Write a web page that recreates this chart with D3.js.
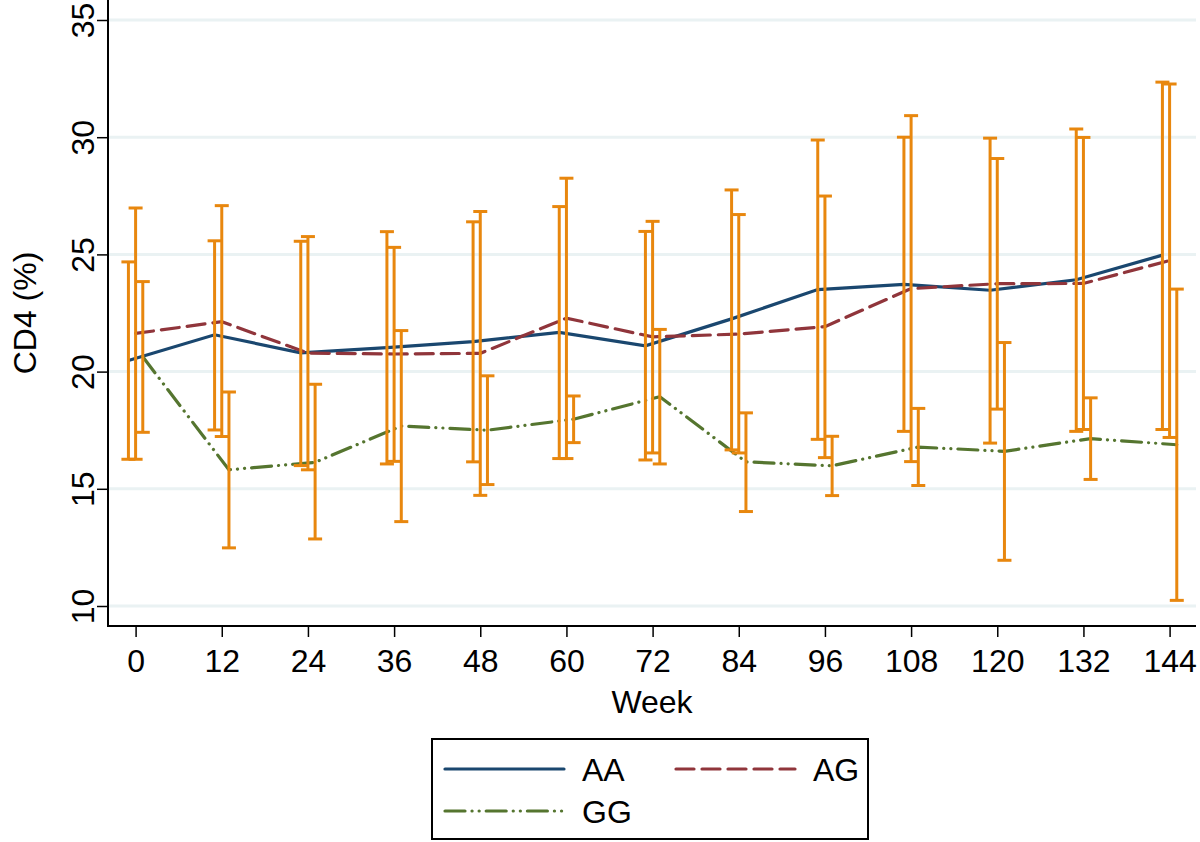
<!DOCTYPE html>
<html>
<head>
<meta charset="utf-8">
<script src="https://cdn.jsdelivr.net/npm/d3@7"></script>
<style>
    body { margin: 0; background: #fff; }
    svg { display: block; }
    text { font-family: "Liberation Sans", Arial, sans-serif; fill: #000; }
</style>
</head>
<body>
<svg width="1200" height="842"></svg>
<script>
"use strict"

const weeks = [0, 12, 24, 36, 48, 60, 72, 84, 96, 108, 120, 132, 144]
const yTicks = [10, 15, 20, 25, 30, 35]

const aaMean = [20.47, 21.57, 20.8, 21.02, 21.28, 21.67, 21.1, 22.25, 23.5, 23.72, 23.47, 23.92, 24.97]
const aaLo = [16.26, 17.51, 15.99, 16.06, 16.15, 16.29, 16.23, 16.66, 17.11, 17.45, 16.95, 17.45, 17.53]
const aaHi = [24.68, 25.58, 25.56, 25.97, 26.39, 27.04, 25.98, 27.75, 29.88, 30.0, 29.96, 30.35, 32.35]

const agMean = [21.63, 22.13, 20.79, 20.75, 20.78, 22.28, 21.48, 21.6, 21.92, 23.54, 23.75, 23.76, 24.74]
const agLo = [16.26, 17.23, 15.81, 16.17, 14.72, 16.29, 16.53, 16.53, 16.33, 16.16, 18.4, 17.53, 17.19]
const agHi = [26.98, 27.08, 25.76, 25.3, 26.83, 28.25, 26.41, 26.7, 27.49, 30.92, 29.09, 29.99, 32.27]

const ggMean = [20.63, 15.81, 16.13, 17.68, 17.5, 17.97, 18.93, 16.15, 15.98, 16.78, 16.6, 17.14, 16.88]
const ggLo = [17.41, 12.48, 12.86, 13.6, 15.18, 16.97, 16.06, 14.03, 14.71, 15.14, 11.95, 15.4, 10.24]
const ggHi = [23.84, 19.13, 19.46, 21.75, 19.82, 18.96, 21.8, 18.24, 17.24, 18.43, 21.24, 18.88, 23.52]

const groups = [
    { name: "AA", mean: aaMean, lo: aaLo, hi: aaHi, shift: -1, color: "#1a476f", dash: null },
    { name: "AG", mean: agMean, lo: agLo, hi: agHi, shift: 0, color: "#90353b", dash: "18,8" },
    { name: "GG", mean: ggMean, lo: ggLo, hi: ggHi, shift: 1, color: "#55752f", dash: "20,7,0.1,7,0.1,7" },
]

const BAR_COLOR = "#e8870e"
const FONT = 32
const left = 108, bottom = 626, right = 1196

const svg = d3.select("svg")
const x = d3.scaleLinear().domain([0, 144]).range([135.6, 1169.6])
const y = d3.scaleLinear().domain([10, 35]).range([606, 20])

// gridlines
svg.append("g")
    .selectAll("line")
    .data(yTicks)
    .join("line")
    .attr("x1", left)
    .attr("x2", right)
    .attr("y1", (d) => y(d))
    .attr("y2", (d) => y(d))
    .attr("stroke", "#eaf2f3")
    .attr("stroke-width", 3)

// y axis
const yAxis = svg.append("g")
    .attr("transform", `translate(${left},0)`)
    .call(d3.axisLeft(y).tickValues(yTicks).tickSize(11).tickPadding(0).tickFormat(d3.format("d")))
yAxis.select(".domain").remove()
yAxis.selectAll(".tick line").attr("stroke", "#000").attr("stroke-width", 1.5)
yAxis.selectAll(".tick text")
    .attr("font-size", FONT)
    .attr("text-anchor", "middle")
    .attr("x", 0)
    .attr("dy", 0)
    .attr("transform", "translate(-14,0) rotate(-90)")

svg.append("line")
    .attr("x1", left).attr("x2", left)
    .attr("y1", 0).attr("y2", bottom + 1)
    .attr("stroke", "#000").attr("stroke-width", 2)

// x axis
const xAxis = svg.append("g")
    .attr("transform", `translate(0,${bottom})`)
    .call(d3.axisBottom(x).tickValues(weeks).tickSize(11).tickPadding(12))
xAxis.select(".domain").remove()
xAxis.selectAll(".tick line").attr("stroke", "#000").attr("stroke-width", 1.5)
xAxis.selectAll(".tick text").attr("font-size", FONT)

svg.append("line")
    .attr("x1", left - 1).attr("x2", right)
    .attr("y1", bottom).attr("y2", bottom)
    .attr("stroke", "#000").attr("stroke-width", 2)

// axis titles
svg.append("text")
    .attr("x", 652)
    .attr("y", 713)
    .attr("text-anchor", "middle")
    .attr("font-size", FONT)
    .text("Week")

svg.append("text")
    .attr("transform", "translate(36,313) rotate(-90)")
    .attr("text-anchor", "middle")
    .attr("font-size", FONT)
    .text("CD4 (%)")

// mean lines
const line = d3.line()
groups.forEach((g) => {
    svg.append("path")
        .datum(weeks.map((w, i) => [x(w + g.shift), y(g.mean[i])]))
        .attr("d", line)
        .attr("fill", "none")
        .attr("stroke", g.color)
        .attr("stroke-width", 3.2)
        .attr("stroke-linecap", g.dash ? "round" : "butt")
        .attr("stroke-dasharray", g.dash)
})

// error bars (drawn on top of the lines)
const capHalf = 7
groups.forEach((g) => {
    const bars = svg.append("g")
        .attr("stroke", BAR_COLOR)
        .attr("stroke-width", 3)
        .selectAll("g")
        .data(weeks.map((w, i) => ({ cx: x(w + g.shift), lo: y(g.lo[i]), hi: y(g.hi[i]) })))
        .join("g")
    bars.append("line")
        .attr("x1", (d) => d.cx).attr("x2", (d) => d.cx)
        .attr("y1", (d) => d.lo).attr("y2", (d) => d.hi)
    bars.append("line")
        .attr("x1", (d) => d.cx - capHalf).attr("x2", (d) => d.cx + capHalf)
        .attr("y1", (d) => d.hi).attr("y2", (d) => d.hi)
    bars.append("line")
        .attr("x1", (d) => d.cx - capHalf).attr("x2", (d) => d.cx + capHalf)
        .attr("y1", (d) => d.lo).attr("y2", (d) => d.lo)
})

// legend
const legend = svg.append("g")
legend.append("rect")
    .attr("x", 432).attr("y", 739)
    .attr("width", 436).attr("height", 100)
    .attr("fill", "#fff")
    .attr("stroke", "#000")
    .attr("stroke-width", 2)

const legendPos = [[445, 769], [676, 769], [445, 811]]
groups.forEach((g, i) => {
    const [lx, ly] = legendPos[i]
    legend.append("line")
        .attr("x1", lx).attr("x2", lx + 119)
        .attr("y1", ly).attr("y2", ly)
        .attr("stroke", g.color)
        .attr("stroke-width", 3.2)
        .attr("stroke-linecap", "round")
        .attr("stroke-dasharray", g.dash)
    legend.append("text")
        .attr("x", lx + 137)
        .attr("y", ly + 12)
        .attr("font-size", FONT)
        .text(g.name)
})
</script>
</body>
</html>
